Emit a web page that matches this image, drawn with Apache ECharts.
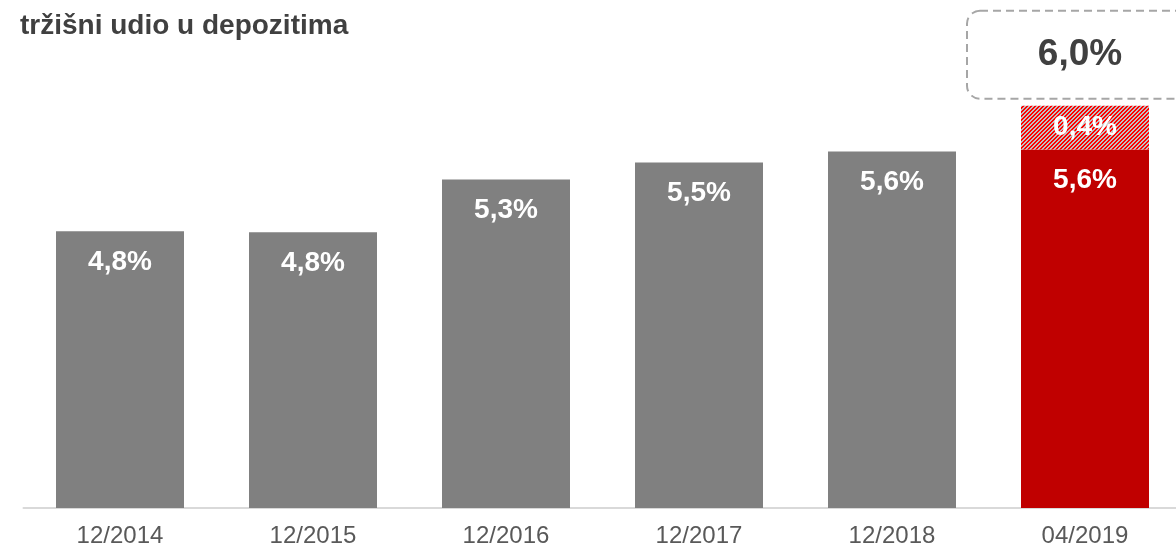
<!DOCTYPE html>
<html>

<head>
	<meta charset="utf-8">
	<title></title>
	<style type="text/css">
	html, body {
		margin: 0;
		padding: 0;
		background: #fff;
		overflow: hidden;
	}

	/* wider than the window: the last bar and the box run off the right edge */
	#main {
		width: 1200px;
		height: 548px;
	}
	</style>
</head>

<body>
	<div id="main"></div>
	<script src="https://cdn.jsdelivr.net/npm/echarts@6/dist/echarts.min.js"></script>
	<script>
	var categories = ['12/2014', '12/2015', '12/2016', '12/2017', '12/2018', '04/2019'];
	var baseShare = [4.78, 4.77, 5.30, 5.47, 5.58, 5.60];
	var increment = [null, null, null, null, null, 0.44];
	var total = [null, null, null, null, null, 6.04];

	function fmt(v) {
		return v.toFixed(1).replace('.', ',') + '%';
	}

	// hatch: red / grey diagonal stripes
	function makeHatch() {
		var c = document.createElement('canvas');
		c.width = 4;
		c.height = 4;
		var ctx = c.getContext('2d');
		for (var x = 0; x < 4; x++) {
			for (var y = 0; y < 4; y++) {
				ctx.fillStyle = ((x + y) % 4) < 2 ? '#ff0000' : '#c0c0c0';
				ctx.fillRect(x, y, 1, 1);
			}
		}
		return c;
	}

	var font = 'Liberation Sans, Arial, sans-serif';

	var option = {
		animation: false,
		title: {
			text: 'tržišni udio u depozitima',
			left: 15,
			top: 7,
			textStyle: {
				fontFamily: font,
				fontSize: 28,
				fontWeight: 'bold',
				color: '#404040'
			}
		},
		grid: {
			left: 23.5,
			right: 18.5,
			top: 60,
			bottom: 38
		},
		xAxis: {
			type: 'category',
			data: categories,
			axisLine: { lineStyle: { color: '#d9d9d9', width: 2 } },
			axisTick: { show: false },
			axisLabel: {
				interval: 0,
				margin: 16,
				fontFamily: font,
				fontSize: 24,
				color: '#595959'
			}
		},
		yAxis: {
			type: 'value',
			min: 2,
			max: 6.5,
			show: false,
			splitLine: { show: false }
		},
		series: [{
				name: 'udio',
				type: 'bar',
				stack: 'a',
				barWidth: 128,
				barGap: '-100%',
				data: baseShare.map(function(v, i) {
					return {
						value: v,
						itemStyle: { color: i === baseShare.length - 1 ? '#c00000' : '#808080' }
					};
				}),
				label: {
					show: true,
					position: 'insideTop',
					distance: 17,
					fontFamily: font,
					fontSize: 28,
					fontWeight: 'bold',
					color: '#fff',
					formatter: function(p) { return fmt(p.value); }
				}
			},
			{
				name: 'rast',
				type: 'bar',
				stack: 'a',
				barWidth: 128,
				data: increment,
				itemStyle: { color: { image: makeHatch(), repeat: 'repeat' } },
				label: {
					show: true,
					position: 'inside',
					fontFamily: font,
					fontSize: 28,
					fontWeight: 'bold',
					color: '#fff',
					formatter: function(p) { return fmt(p.value); }
				}
			},
			{
				name: 'ukupno',
				type: 'bar',
				barWidth: 128,
				z: 1,
				silent: true,
				data: total,
				itemStyle: { color: 'rgba(0,0,0,0)' },
				label: {
					show: true,
					position: 'top',
					distance: 8,
					width: 200,
					lineHeight: 38,
					padding: [24, 22, 24, 12],
					backgroundColor: '#fff',
					borderColor: '#a6a6a6',
					borderWidth: 2,
					borderType: [8, 5],
					borderRadius: 12,
					align: 'center',
					fontFamily: font,
					fontSize: 37,
					fontWeight: 'bold',
					color: '#404040',
					formatter: function(p) { return fmt(p.value); }
				}
			}
		]
	};

	var myChart = echarts.init(document.getElementById('main'));
	myChart.setOption(option, true);
	</script>
</body>

</html>
